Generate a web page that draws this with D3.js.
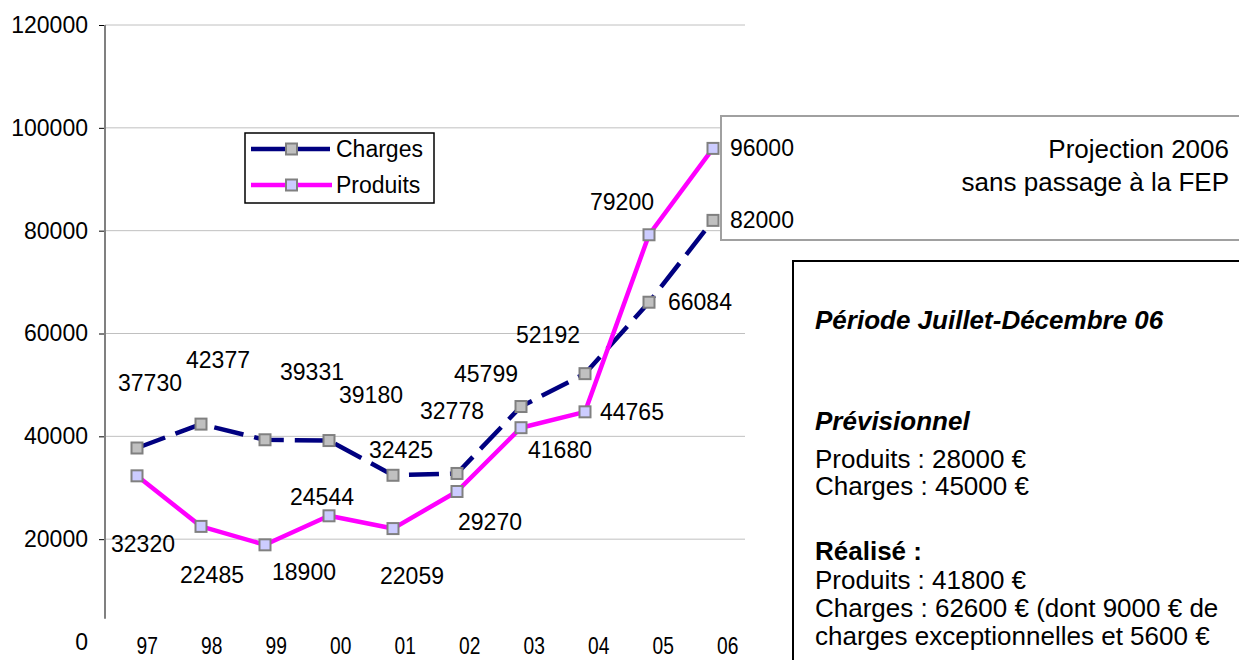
<!DOCTYPE html>
<html>
<head>
<meta charset="utf-8">
<script src="https://cdn.jsdelivr.net/npm/d3@7"></script>
<style>
  body { margin: 0; background: #fff; }
  svg { display: block; font-family: "Liberation Sans", Arial, sans-serif; }
</style>
</head>
<body>
<svg width="1239" height="660"></svg>
<script>
// data
const years = ["97", "98", "99", "00", "01", "02", "03", "04", "05", "06"];
const charges = [37730, 42377, 39331, 39180, 32425, 32778, 45799, 52192, 66084, 82000];
const produits = [32320, 22485, 18900, 24544, 22059, 29270, 41680, 44765, 79200, 96000];
const yTicks = [0, 20000, 40000, 60000, 80000, 100000, 120000];

// where each data label sits relative to its point (px), [dx, dy, anchor]
const chargesLabelPos = [[13, -65, "middle"], [17, -64, "middle"], [47, -68, "middle"], [42, -46, "middle"], [8, -25, "middle"], [-5, -63, "middle"], [-35, -33, "middle"], [-37, -39, "middle"], [19, 0, "start"], [17, 0, "start"]];
const produitsLabelPos = [[6, 68, "middle"], [11, 49, "middle"], [39, 27, "middle"], [-7, -19, "middle"], [19, 47, "middle"], [33, 30, "middle"], [39, 22, "middle"], [15, 0, "start"], [-27, -33, "middle"], [17, 0, "start"]];

const boxLines = [
  { text: "Période Juillet-Décembre 06", weight: "bold", style: "italic", y: 329 },
  { text: "Prévisionnel", weight: "bold", style: "italic", y: 430 },
  { text: "Produits : 28000 €", weight: "normal", style: "normal", y: 468 },
  { text: "Charges : 45000 €", weight: "normal", style: "normal", y: 495 },
  { text: "Réalisé :", weight: "bold", style: "normal", y: 560 },
  { text: "Produits : 41800 €", weight: "normal", style: "normal", y: 589 },
  { text: "Charges : 62600 € (dont 9000 € de", weight: "normal", style: "normal", y: 617 },
  { text: "charges exceptionnelles et 5600 €", weight: "normal", style: "normal", y: 645 }
];

var svg = d3.select("svg");

var x = d3.scalePoint().domain(years).range([105, 745]).padding(0.5);
var xLabel = d3.scalePoint().domain(years).range([115, 760]).padding(0.5);
var y = d3.scaleLinear().domain([0, 120000]).range([642, 25]);

// gridlines
svg.append("g")
  .selectAll("line")
  .data(yTicks.filter((d) => d > 0))
  .enter()
  .append("line")
  .attr("x1", 105)
  .attr("x2", 745)
  .attr("y1", (d) => y(d))
  .attr("y2", (d) => y(d))
  .attr("stroke", "#c0c0c0")
  .attr("stroke-width", 1);

// y axis
var yAxis = svg.append("g")
  .attr("transform", "translate(105,0)")
  .call(d3.axisLeft(y).tickValues(yTicks).tickSize(6).tickPadding(11).tickFormat(d3.format("d")));
yAxis.select(".domain").remove();
yAxis.selectAll(".tick line").attr("stroke", "#000").attr("stroke-width", 1);
yAxis.selectAll(".tick").filter((d) => d === 0).select("line").remove();
yAxis.selectAll(".tick text").attr("font-size", 23).attr("fill", "#000").attr("font-family", "Liberation Sans, Arial, sans-serif");
svg.append("line")
  .attr("x1", 105).attr("x2", 105)
  .attr("y1", y(120000)).attr("y2", y(4500))
  .attr("stroke", "#808080").attr("stroke-width", 2);

// category labels (narrow)
svg.append("g")
  .selectAll("text")
  .data(years)
  .enter()
  .append("text")
  .attr("transform", (d) => `translate(${xLabel(d)},${y(0) + 12}) scale(0.8,1)`)
  .attr("text-anchor", "middle")
  .attr("font-size", 24)
  .text((d) => d);

var line = d3.line()
  .x((d, i) => x(years[i]))
  .y((d) => y(d));

svg.append("path")
  .datum(charges)
  .attr("d", line)
  .attr("fill", "none")
  .attr("stroke", "#000080")
  .attr("stroke-width", 4.5)
  .attr("stroke-dasharray", "30,11");

svg.append("path")
  .datum(produits)
  .attr("d", line)
  .attr("fill", "none")
  .attr("stroke", "#ff00ff")
  .attr("stroke-width", 4.5)
  .attr("stroke-linejoin", "round");

function markers(values, fill) {
  svg.append("g")
    .selectAll("rect")
    .data(values)
    .enter()
    .append("rect")
    .attr("x", (d, i) => x(years[i]) - 5.5)
    .attr("y", (d) => y(d) - 5.5)
    .attr("width", 11)
    .attr("height", 11)
    .attr("fill", fill)
    .attr("stroke", "#808080")
    .attr("stroke-width", 2);
}
markers(charges, "#c0c0c0");
markers(produits, "#ccccff");

function labels(values, pos) {
  svg.append("g")
    .selectAll("text")
    .data(values)
    .enter()
    .append("text")
    .attr("x", (d, i) => x(years[i]) + pos[i][0])
    .attr("y", (d, i) => y(d) + pos[i][1])
    .attr("dy", "0.35em")
    .attr("text-anchor", (d, i) => pos[i][2])
    .attr("font-size", 23)
    .text((d) => d);
}

// projection box (drawn before labels so the labels stay on top)
svg.append("rect")
  .attr("x", 721).attr("y", 116)
  .attr("width", 530).attr("height", 124)
  .attr("fill", "#fff")
  .attr("stroke", "#a0a0a0")
  .attr("stroke-width", 2);
svg.append("text")
  .attr("x", 1229).attr("y", 158)
  .attr("text-anchor", "end")
  .attr("font-size", 26)
  .text("Projection 2006");
svg.append("text")
  .attr("x", 1229).attr("y", 191)
  .attr("text-anchor", "end")
  .attr("font-size", 26)
  .text("sans passage à la FEP");

labels(charges, chargesLabelPos);
labels(produits, produitsLabelPos);

// legend
var legend = svg.append("g");
legend.append("rect")
  .attr("x", 245).attr("y", 133)
  .attr("width", 189).attr("height", 70)
  .attr("fill", "#fff")
  .attr("stroke", "#000")
  .attr("stroke-width", 1.5);
var legendItems = [
  { name: "Charges", color: "#000080", fill: "#c0c0c0", dash: "35,9", y: 149 },
  { name: "Produits", color: "#ff00ff", fill: "#ccccff", dash: null, y: 185 }
];
legendItems.forEach((it) => {
  legend.append("line")
    .attr("x1", 251).attr("x2", 332)
    .attr("y1", it.y).attr("y2", it.y)
    .attr("stroke", it.color)
    .attr("stroke-width", 4.5)
    .attr("stroke-dasharray", it.dash);
  legend.append("rect")
    .attr("x", 286).attr("y", it.y - 5.5)
    .attr("width", 11).attr("height", 11)
    .attr("fill", it.fill)
    .attr("stroke", "#808080")
    .attr("stroke-width", 2);
  legend.append("text")
    .attr("x", 336).attr("y", it.y)
    .attr("dy", "0.35em")
    .attr("font-size", 23)
    .text(it.name);
});

// info box on the right
svg.append("rect")
  .attr("x", 793).attr("y", 261)
  .attr("width", 460).attr("height", 420)
  .attr("fill", "#fff")
  .attr("stroke", "#000")
  .attr("stroke-width", 2);
svg.append("g")
  .selectAll("text")
  .data(boxLines)
  .enter()
  .append("text")
  .attr("x", 815)
  .attr("y", (d) => d.y)
  .attr("font-size", 26)
  .attr("font-weight", (d) => d.weight)
  .attr("font-style", (d) => d.style)
  .text((d) => d.text);
</script>
</body>
</html>
